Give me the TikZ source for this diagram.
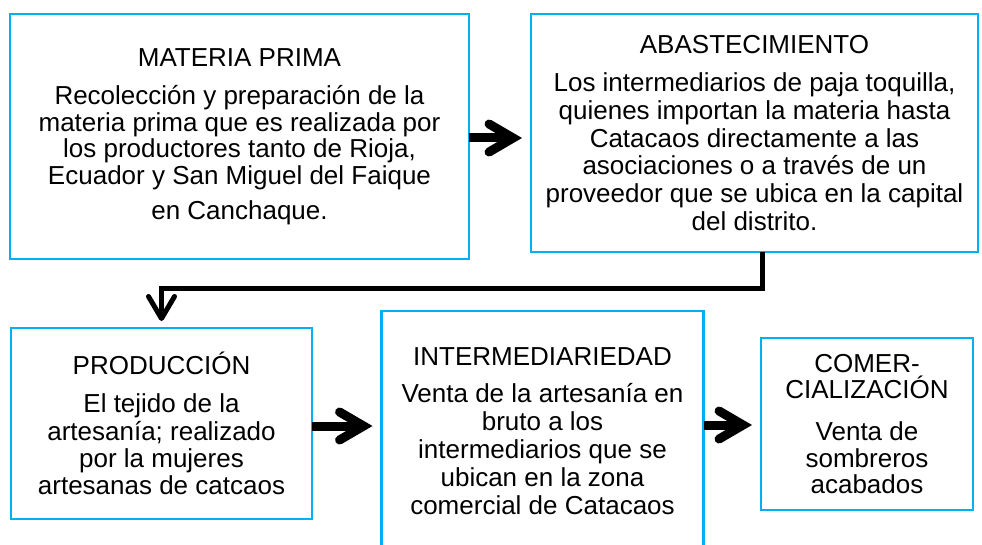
\documentclass[tikz,border=0pt]{standalone}
\usepackage{fontspec}
\setmainfont{Liberation Sans}
\usetikzlibrary{arrows.meta}
\definecolor{boxblue}{HTML}{00B0F0}
\begin{document}
\begin{tikzpicture}[x=1pt,y=-1pt,
  box/.style={draw=boxblue, line width=2.6pt, align=center, inner sep=0pt, outer sep=0pt},
  bigarrow/.style={line width=9pt, -{Straight Barb[length=24pt,width=28pt,line cap=round,line join=miter]}},
  elbowarrow/.style={line width=5pt, -{Straight Barb[length=22pt,width=26pt,round]}}]
\useasboundingbox (0,0) rectangle (982,545);
\node[box, minimum width=459pt, minimum height=245pt, font=\fontsize{26}{26.7}\selectfont] (b1) at (239.5,136.5)
  {MATERIA PRIMA\\[11.7pt]Recolección y preparación de la\\materia prima que es realizada por\\los productores tanto de Rioja,\\Ecuador y San Miguel del Faique\\[8pt]en Canchaque.};
\node[box, minimum width=447pt, minimum height=238pt, font=\fontsize{26}{27.7}\selectfont] (b2) at (754.5,133)
  {ABASTECIMIENTO\\[10.7pt]Los intermediarios de paja toquilla,\\quienes importan la materia hasta\\Catacaos directamente a las\\asociaciones o a través de un\\proveedor que se ubica en la capital\\del distrito.};
\node[box, minimum width=301pt, minimum height=191pt, font=\fontsize{26}{27.2}\selectfont] (b3) at (161.5,423.5)
  {PRODUCCIÓN\\[11pt]El tejido de la\\artesanía; realizado\\por la mujeres\\artesanas de catcaos};
\node[box, minimum width=322pt, minimum height=241pt, font=\fontsize{26}{28}\selectfont] (b4) at (542.5,431.5)
  {INTERMEDIARIEDAD\\[8.7pt]Venta de la artesanía en\\bruto a los\\intermediarios que se\\ubican en la zona\\comercial de Catacaos};
\node[box, minimum width=212pt, minimum height=172pt, font=\fontsize{26}{26.5}\selectfont] (b5) at (867,424)
  {COMER-\\CIALIZACIÓN\\[15.5pt]Venta de\\sombreros\\acabados};
\draw[bigarrow, shorten >=9pt] ([yshift=-1.5pt]b1.east) -- ([yshift=-1.5pt]b1.east -| b2.west);
\draw[elbowarrow, shorten >=7pt] ([xshift=7.5pt]b2.south) |- ([yshift=40pt]b3.north) -- (b3.north);
\draw[bigarrow, shorten >=9pt] ([yshift=-2.5pt]b3.east) -- ([yshift=-2.5pt]b3.east -| b4.west);
\draw[bigarrow, shorten >=9pt] ([yshift=-1pt]b5.west -| b4.east) -- ([yshift=-1pt]b5.west);
\end{tikzpicture}
\end{document}
